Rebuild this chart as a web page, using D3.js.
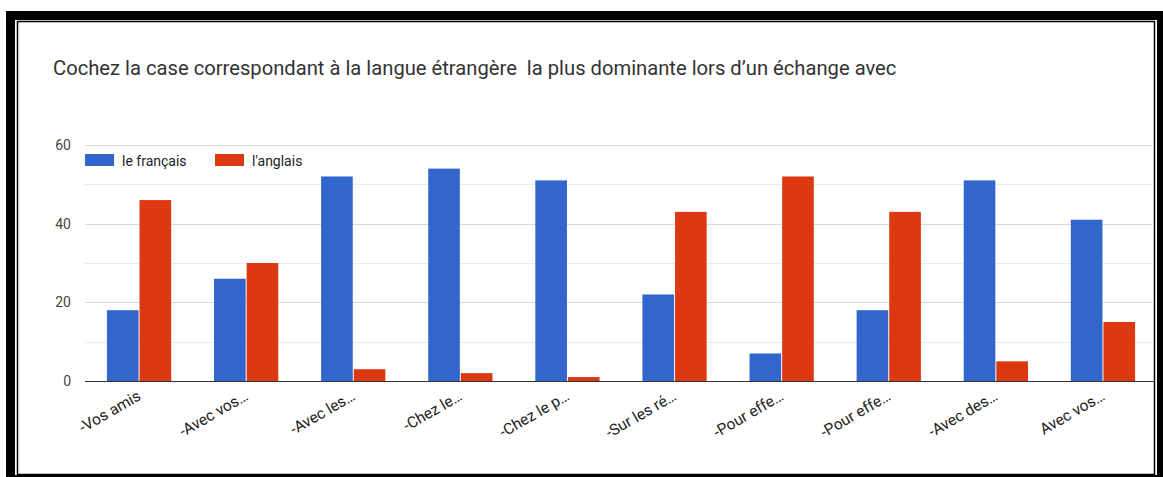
<!DOCTYPE html>
<html>
<head>
<meta charset="utf-8">
<script src="https://cdn.jsdelivr.net/npm/d3@7/dist/d3.min.js"></script>
<style>
  html, body { margin: 0; padding: 0; background: #fff; }
  svg { display: block; }
  text { font-family: Roboto, "Noto Sans", Arial, sans-serif; }
</style>
</head>
<body>
<svg id="chart" width="1163" height="477"></svg>
<script>
const title = "Cochez la case correspondant à la langue étrangère  la plus dominante lors d’un échange avec";
const categories = ["-Vos amis", "-Avec vos…", "-Avec les…", "-Chez le…", "-Chez le p…", "-Sur les ré…", "-Pour effe…", "-Pour effe…", "-Avec des…", "Avec vos…"];
const seriesNames = ["le français", "l'anglais"];
const francais = [18, 26, 52, 54, 51, 22, 7, 18, 51, 41];
const anglais = [46, 30, 3, 2, 1, 43, 52, 43, 5, 15];
const majorTicks = [0, 20, 40, 60];
const minorTicks = [10, 30, 50];
const colors = ["#3366cc", "#dc3912"];

const svg = d3.select("#chart");

// frame
svg.append("rect").attr("x", 6).attr("y", 11).attr("width", 1157).attr("height", 466).attr("fill", "#000");
svg.append("rect").attr("x", 15).attr("y", 20).attr("width", 1142).attr("height", 455).attr("fill", "#fff");
svg.append("rect").attr("x", 17.5).attr("y", 21.5).attr("width", 1137).attr("height", 453).attr("fill", "none").attr("stroke", "#000").attr("stroke-width", 1.5);

// title
svg.append("text").attr("x", 53).attr("y", 75).attr("font-size", 20.2).attr("fill", "#333")
  .style("white-space", "pre").attr("xml:space", "preserve").text(title);

const x0 = 85.5, x1 = 1156.5;
const y = d3.scaleLinear().domain([0, 60]).range([381, 145]);
const x = d3.scaleBand().domain(d3.range(categories.length)).range([x0, x1]).paddingInner(0.4).paddingOuter(0.2);
const xs = d3.scaleBand().domain([0, 1]).range([0, x.bandwidth()]).paddingInner(0.03);

// gridlines
svg.append("g").selectAll("line").data(minorTicks).join("line")
  .attr("x1", 85).attr("x2", 1154).attr("y1", d => Math.round(y(d)) + 0.5).attr("y2", d => Math.round(y(d)) + 0.5)
  .attr("stroke", "#ebebeb").attr("stroke-width", 1);
svg.append("g").selectAll("line").data(majorTicks.filter(d => d !== 0)).join("line")
  .attr("x1", 85).attr("x2", 1154).attr("y1", d => Math.round(y(d)) + 0.5).attr("y2", d => Math.round(y(d)) + 0.5)
  .attr("stroke", "#d9d9d9").attr("stroke-width", 1);

// y labels
svg.append("g").selectAll("text").data(majorTicks).join("text")
  .attr("x", 71).attr("y", d => y(d) + 5).attr("text-anchor", "end")
  .attr("font-size", 14).attr("fill", "#444").text(d => d);

// bars
const data = [francais, anglais];
data.forEach((vals, si) => {
  svg.append("g").selectAll("rect").data(vals).join("rect")
    .attr("x", (d, i) => x(i) + xs(si))
    .attr("width", xs.bandwidth())
    .attr("y", d => y(d))
    .attr("height", d => y(0) - y(d))
    .attr("fill", colors[si]);
});

// baseline
svg.append("line").attr("x1", 85).attr("x2", 1154).attr("y1", Math.round(y(0)) + 0.5).attr("y2", Math.round(y(0)) + 0.5)
  .attr("stroke", "#333").attr("stroke-width", 1);

// x labels
svg.append("g").selectAll("text").data(categories).join("text")
  .attr("transform", (d, i) => `translate(${x(i) + x.bandwidth() / 2 + 3},${399}) rotate(-30)`)
  .attr("text-anchor", "end").attr("font-size", 15.5).attr("fill", "#222").text(d => d);

// legend
const legX = [85, 215];
seriesNames.forEach((n, i) => {
  svg.append("rect").attr("x", legX[i]).attr("y", 154).attr("width", 29).attr("height", 12).attr("fill", colors[i]);
  svg.append("text").attr("x", legX[i] + 37).attr("y", 166).attr("font-size", 14).attr("fill", "#222").text(n);
});
</script>
</body>
</html>
